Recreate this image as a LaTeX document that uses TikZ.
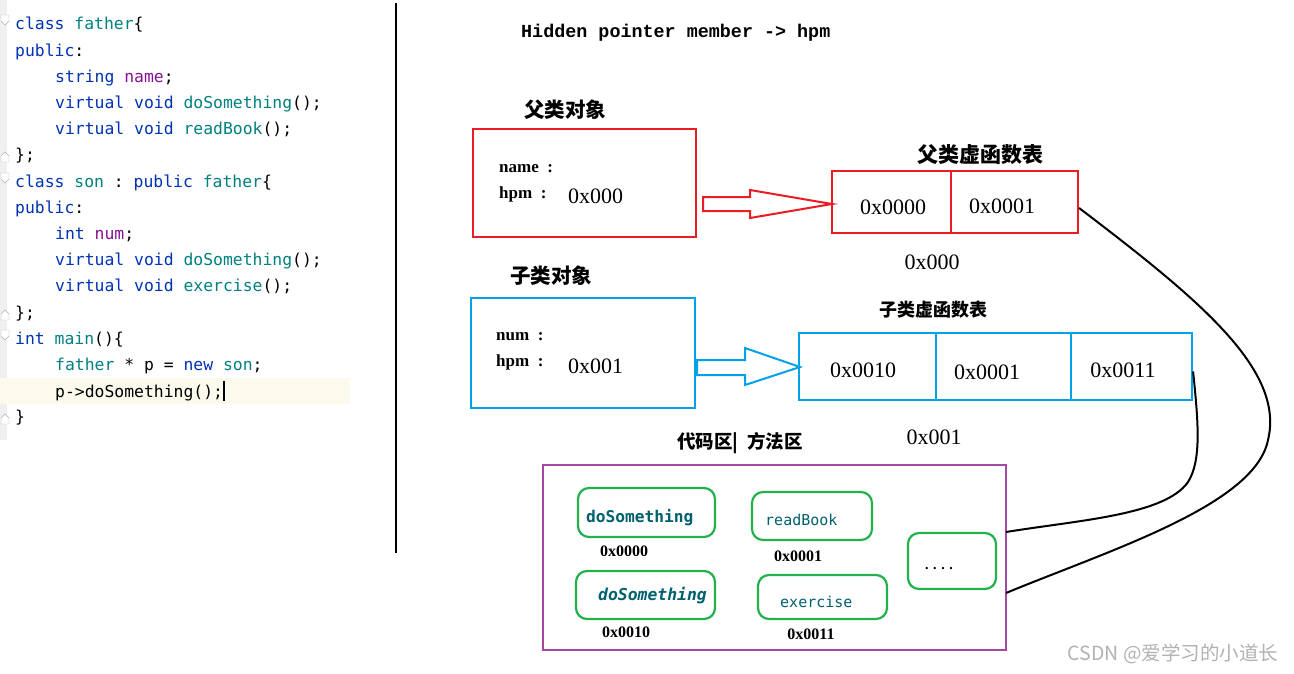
\documentclass[tikz,border=0pt]{standalone}
\usepackage{fontspec}
\setmainfont{Liberation Serif}
\setmonofont{DejaVu Sans Mono}
\newfontfamily\cjk{Noto Sans CJK SC}
\newfontfamily\lmono{Liberation Mono}
\definecolor{kw}{HTML}{0033B3}
\definecolor{cls}{HTML}{008080}
\definecolor{mem}{HTML}{871094}
\definecolor{pred}{HTML}{ED1C24}
\definecolor{pblue}{HTML}{00A2E8}
\definecolor{ppurple}{HTML}{A349A4}
\definecolor{pgreen}{HTML}{22B14C}
\definecolor{fteal}{HTML}{00606E}
\definecolor{hl}{HTML}{FCFAED}
\newcommand{\K}[1]{\textcolor{kw}{#1}}
\newcommand{\Cl}[1]{\textcolor{cls}{#1}}
\newcommand{\M}[1]{\textcolor{mem}{#1}}
\tikzset{
  code/.style={anchor=base west,inner sep=0pt,font=\ttfamily\fontsize{16.4}{18}\selectfont},
  redbox/.style={draw=pred,line width=2.2pt},
  bluebox/.style={draw=pblue,line width=2.2pt},
  cell/.style={font=\fontsize{22}{24}\selectfont,inner sep=0pt},
  ttl/.style={font=\cjk\fontsize{20.5}{22}\selectfont\bfseries,inner sep=0pt},
  fld/.style={anchor=base west,font=\bfseries\fontsize{17}{19}\selectfont,inner sep=0pt},
  gbox/.style={draw=pgreen,line width=2.2pt,rounded corners=11pt},
  gtext/.style={text=fteal,font=\ttfamily\fontsize{15}{17}\selectfont,inner sep=0pt},
  addr/.style={font=\bfseries\fontsize{16}{18}\selectfont,inner sep=0pt},
  link/.style={black,line width=2pt},
}
\begin{document}
\begin{tikzpicture}[x=1pt,y=-1pt]
\useasboundingbox (0,0) rectangle (1294,673);
\fill[white] (0,0) rectangle (1294,673);
% code editor
\fill[gray!12] (0,0) rectangle (7,440);
\fill[hl] (0,378) rectangle (350,404);
\foreach \yy in {23,181,338}{\draw[gray!60,fill=white] (1,\yy-8) -- (9,\yy-8) -- (9,\yy-2) -- (5,\yy+2) -- (1,\yy-2) -- cycle;}
\foreach \yy in {154,312,416}{\draw[gray!60,fill=white] (1,\yy+8) -- (9,\yy+8) -- (9,\yy+2) -- (5,\yy-2) -- (1,\yy+2) -- cycle;}
\node[code] (c1) at (15,29) {\K{class} \Cl{father}\{};
\node[code] (c2) at (15,56) {\K{public}:};
\node[code] (c3) at (55,82) {\K{string} \M{name};};
\node[code] (c4) at (55,108) {\K{virtual} \K{void} \Cl{doSomething}();};
\node[code] (c5) at (55,134) {\K{virtual} \K{void} \Cl{readBook}();};
\node[code] (c6) at (15,160) {\};};
\node[code] (c7) at (15,187) {\K{class} \Cl{son} : \K{public} \Cl{father}\{};
\node[code] (c8) at (15,213) {\K{public}:};
\node[code] (c9) at (55,239) {\K{int} \M{num};};
\node[code] (c10) at (55,265) {\K{virtual} \K{void} \Cl{doSomething}();};
\node[code] (c11) at (55,291) {\K{virtual} \K{void} \Cl{exercise}();};
\node[code] (c12) at (15,318) {\};};
\node[code] (c13) at (15,344) {\K{int} \Cl{main}()\{};
\node[code] (c14) at (55,370) {\Cl{father} * p = \K{new} \Cl{son};};
\node[code] (c15) at (55,397) {p->doSomething();};
\node[code] (c16) at (15,422) {\}};
\draw[black,line width=1.5pt] (224,381) -- (224,401);
% divider
\draw[black,line width=2pt] (396,3) -- (396,553);
% heading
\node[inner sep=0pt,anchor=base west,font=\lmono\bfseries\fontsize{18.4}{20}\selectfont] (head) at (521,37) {Hidden pointer member -> hpm};
% father object
\node[ttl] (ftitle) at (565,110) {父类对象};
\node[redbox,minimum width=223pt,minimum height=108pt,inner sep=0pt] (fobj) at (584.5,183) {};
\node[fld] (fname) at (499,172) {name\ \ :};
\node[fld] (fhpm) at (499,198) {hpm\ \ :};
\node[cell,anchor=base west] (fval) at (568,203) {0x000};
% father vtable
\node[ttl,font=\cjk\fontsize{21}{23}\selectfont\bfseries] (fvtitle) at (980,155) {父类虚函数表};
\node[redbox,minimum width=246pt,minimum height=62pt,inner sep=0pt] (ftab) at (955,202) {};
\draw[pred,line width=2.2pt] (951,171) -- (951,233);
\node[cell] (f0) at (893,207) {0x0000};
\node[cell] (f1) at (1002,206) {0x0001};
\node[cell] (faddr) at (932,262) {0x000};
% red hollow arrow
\draw[pred,line width=2pt,fill=white] (703,197) -- (750,197) -- (750,190) -- (832,204) -- (750,218) -- (750,211) -- (703,211) -- cycle;
% son object
\node[ttl] (stitle) at (551,276) {子类对象};
\node[bluebox,minimum width=224pt,minimum height=110pt,inner sep=0pt] (sobj) at (583,353) {};
\node[fld] (snum) at (496,340) {num\ \ :};
\node[fld] (shpm) at (496,366) {hpm\ \ :};
\node[cell,anchor=base west] (sval) at (568,373) {0x001};
% son vtable
\node[ttl,font=\cjk\fontsize{18}{20}\selectfont\bfseries] (svtitle) at (933,310) {子类虚函数表};
\node[bluebox,minimum width=393pt,minimum height=67pt,inner sep=0pt] (stab) at (995.5,366.5) {};
\draw[pblue,line width=2.2pt] (936,333) -- (936,400);
\draw[pblue,line width=2.2pt] (1071,333) -- (1071,400);
\node[cell] (s0) at (863,370) {0x0010};
\node[cell] (s1) at (987,372) {0x0001};
\node[cell] (s2) at (1123,370) {0x0011};
\node[cell] (saddr) at (934,437) {0x001};
% blue hollow arrow
\draw[pblue,line width=2pt,fill=white] (697,360) -- (745,360) -- (745,348) -- (800,367) -- (745,385) -- (745,375) -- (697,375) -- cycle;
% code area
\node[ttl,font=\cjk\fontsize{18.5}{20}\selectfont\bfseries] (ctitle) at (740,443) {代码区|\ \ 方法区};
\node[draw=ppurple,line width=2.2pt,minimum width=463pt,minimum height=185pt,inner sep=0pt] (code) at (774.5,557.5) {};
\node[gbox,minimum width=137pt,minimum height=49pt] (g1) at (646.5,512.5) {};
\node[gtext,font=\ttfamily\bfseries\fontsize{16.2}{18}\selectfont,anchor=west] (g1t) at (586,518) {doSomething};
\node[addr] (a1) at (624,551) {0x0000};
\node[gbox,minimum width=120pt,minimum height=48pt] (g2) at (812,516) {};
\node[gtext,anchor=west] (g2t) at (765,520) {readBook};
\node[addr] (a2) at (798,556) {0x0001};
\node[gbox,minimum width=139pt,minimum height=48pt] (g3) at (645.5,595) {};
\node[gtext,font=\ttfamily\bfseries\itshape\fontsize{16.4}{18}\selectfont,anchor=west] (g3t) at (598,596) {doSomething};
\node[addr] (a3) at (626,632) {0x0010};
\node[gbox,minimum width=129pt,minimum height=44pt] (g4) at (822.5,597) {};
\node[gtext,anchor=west] (g4t) at (780,602) {exercise};
\node[addr] (a4) at (811,634) {0x0011};
\node[gbox,minimum width=88pt,minimum height=56pt] (g5) at (952,561) {};
\node[inner sep=0pt,font=\bfseries\fontsize{14}{16}\selectfont] (g5t) at (939,569) {. . . .};
% links
\coordinate (e1) at ([yshift=-6pt]ftab.east);
\coordinate (e2) at ([yshift=-5pt]stab.east);
\coordinate (p1) at (1006,593);
\coordinate (p2) at (1006,532);
\draw[link] (e1) .. controls (1200,300) and (1285,370) .. (1268,440) .. controls (1255,505) and (1110,550) .. (p1);
\draw[link] (e2) .. controls (1198,420) and (1202,460) .. (1188,482) .. controls (1165,515) and (1080,520) .. (p2);
% watermark
\node[inner sep=0pt,text=gray!60,font=\cjk\fontsize{19.5}{21}\selectfont] (wm) at (1173,654) {CSDN @爱学习的小道长};
\end{tikzpicture}
\end{document}
